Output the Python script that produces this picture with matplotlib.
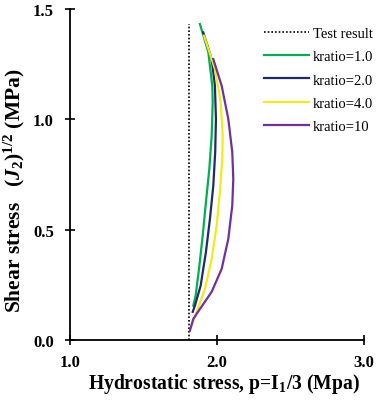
import matplotlib
matplotlib.use("Agg")
import matplotlib.pyplot as plt

plt.rcParams['font.family'] = ['Liberation Serif', 'DejaVu Serif']
plt.rcParams['mathtext.fontset'] = 'custom'
plt.rcParams['mathtext.rm'] = 'Liberation Serif:bold'
plt.rcParams['mathtext.it'] = 'Liberation Serif:italic:bold'
plt.rcParams['mathtext.bf'] = 'Liberation Serif:bold'

# Test result (vertical line)
test_p = [1.81, 1.81]
test_q = [0.0, 1.43]

# kratio = 1.0
k1_p = [1.839, 1.855, 1.878, 1.903, 1.925, 1.948, 1.964, 1.971, 1.968, 1.941, 1.884]
k1_q = [0.155, 0.201, 0.322, 0.473, 0.625, 0.775, 0.926, 1.079, 1.152, 1.305, 1.432]
# kratio = 2.0
k2_p = [1.835, 1.850, 1.889, 1.925, 1.952, 1.975, 1.988, 1.993, 1.986, 1.964, 1.907]
k2_q = [0.127, 0.155, 0.246, 0.399, 0.548, 0.699, 0.852, 1.002, 1.152, 1.273, 1.394]
# kratio = 4.0
k4_p = [1.828, 1.862, 1.918, 1.964, 1.998, 2.020, 2.036, 2.039, 2.025, 1.986, 1.912]
k4_q = [0.065, 0.127, 0.231, 0.367, 0.518, 0.671, 0.820, 0.926, 1.079, 1.228, 1.379]
# kratio = 10
k10_p = [1.816, 1.839, 1.884, 1.964, 2.032, 2.077, 2.104, 2.111, 2.104, 2.077, 2.032, 1.975]
k10_q = [0.042, 0.095, 0.140, 0.218, 0.322, 0.458, 0.609, 0.730, 0.852, 1.002, 1.152, 1.273]

labels = ['Test result', 'kratio=1.0', 'kratio=2.0', 'kratio=4.0', 'kratio=10']
colors = ['#00b050', '#1f2a6b', '#f2ea1c', '#7030a0']

fig = plt.figure(figsize=(3.78, 4.02), dpi=100)
ax = fig.add_axes([0.185, 0.152, 0.778, 0.823])

ax.plot(test_p, test_q, color='black', linestyle=(0, (1, 1.2)), lw=1.2, label=labels[0])
for p, q, c, l in zip([k1_p, k2_p, k4_p, k10_p], [k1_q, k2_q, k4_q, k10_q], colors, labels[1:]):
    ax.plot(p, q, color=c, lw=1.6, label=l, solid_joinstyle='round')

ax.set_xlim(1.0, 3.0)
ax.set_ylim(0.0, 1.5)
ax.set_xticks([1.0, 2.0, 3.0])
ax.set_yticks([0.0, 0.5, 1.0, 1.5])
ax.set_xticklabels(['1.0', '2.0', '3.0'])
ax.set_yticklabels(['0.0', '0.5', '1.0', '1.5'])
for s in ['top', 'right']:
    ax.spines[s].set_visible(False)
for s in ['left', 'bottom']:
    ax.spines[s].set_linewidth(1.3)
ax.tick_params(axis='both', direction='inout', length=7, width=1.2, labelsize=12)
ax.tick_params(axis='x', pad=7)
ax.tick_params(axis='y', pad=8)
for t in ax.get_xticklabels() + ax.get_yticklabels():
    t.set_fontweight('bold')

ax.set_xlabel('Hydrostatic stress, p=I$_1$/3 (Mpa)', fontsize=14.1, fontweight='bold')
ax.xaxis.set_label_coords(0.525, -0.095)
ax.set_ylabel('Shear stress   $(J_2)^{1/2}$ (MPa)', fontsize=15.5, fontweight='bold')
ax.yaxis.set_label_coords(-0.145, 0.455)

leg = ax.legend(loc='upper right', bbox_to_anchor=(1.075, 0.985), frameon=False, fontsize=10.5,
                handlelength=3.1, handletextpad=0.25, labelspacing=0.68)

fig.savefig('out.png', dpi=100)
